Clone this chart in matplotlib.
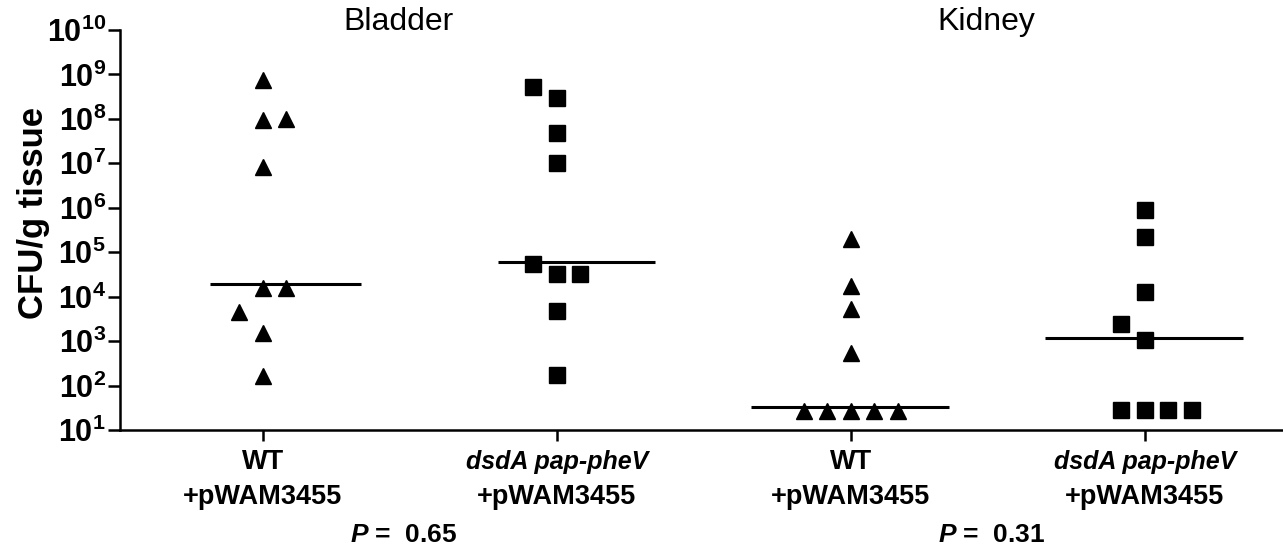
import matplotlib
matplotlib.use('Agg')
import matplotlib.pyplot as plt
import matplotlib.transforms as mtransforms
import numpy as np

plt.rcParams['font.family'] = 'Liberation Sans'
plt.rcParams['mathtext.fontset'] = 'custom'
plt.rcParams['mathtext.rm'] = 'Liberation Sans'
plt.rcParams['mathtext.bf'] = 'Liberation Sans:bold'
plt.rcParams['mathtext.bfit'] = 'Liberation Sans:italic:bold'

# values (CFU/g tissue)
bladder_wt = [7.4e8, 9.3e7, 1.0e8, 8.1e6, 1.55e4, 1.55e4, 4.5e3, 1.5e3, 160]
bladder_mut = [5.2e8, 3.0e8, 4.7e7, 1.0e7, 5.4e4, 3.2e4, 3.2e4, 4.7e3, 170]
kidney_wt = [2.0e5, 1.7e4, 5.2e3, 540, 27, 27, 27, 27, 27]
kidney_mut = [8.7e5, 2.2e5, 1.26e4, 2.4e3, 1.05e3, 28, 28, 28, 28]
medians = [1.9e4, 6.0e4, 33, 1.2e3]

strains = ['WT', 'dsdA pap-pheV', 'WT', 'dsdA pap-pheV']
plasmid = '+pWAM3455'
tissues = ['Bladder', 'Kidney']
p_values = ['0.65', '0.31']

# layout: horizontal slot of each point (scatter spread), median line extents
slots = [
    [0, 0, 1, 0, 0, 1, -1, 0, 0],
    [-1, 0, 0, 0, -1, 0, 1, 0, 0],
    [0, 0, 0, 0, -2, -1, 0, 1, 2],
    [0, 0, 0, -1, 0, -1, 0, 1, 2],
]
markers = ['^', 's', '^', 's']
line_left = [-0.18, -0.20, -0.34, -0.34]
line_right = 0.335
slot_w = 0.08

data = [bladder_wt, bladder_mut, kidney_wt, kidney_mut]

fig = plt.figure(figsize=(12.83, 5.51), dpi=100)
ax = fig.add_axes([0.0935, 0.2196, 0.9065, 0.7260])

for i, vals in enumerate(data):
    xs = [i + s * slot_w for s in slots[i]]
    ax.plot(xs, vals, ls='none', marker=markers[i], ms=12, color='black',
            mec='black')
    ax.plot([i + line_left[i], i + line_right], [medians[i], medians[i]],
            color='black', lw=2.2, solid_capstyle='butt')

ax.set_yscale('log')
ax.set_ylim(10, 1e10)
ax.set_xlim(-0.486, 3.47)
ax.set_yticks([10.0 ** k for k in range(1, 11)])
ax.set_yticklabels([r'$\mathbf{10^{%d}}$' % k for k in range(1, 11)])
ax.yaxis.set_minor_locator(matplotlib.ticker.NullLocator())
ax.tick_params(axis='y', labelsize=22, length=9, width=1.8, pad=1)
ax.set_xticks(range(4))
ax.set_xticklabels([])
ax.tick_params(axis='x', length=8, width=1.8)

for side in ['top', 'right']:
    ax.spines[side].set_visible(False)
for side in ['left', 'bottom']:
    ax.spines[side].set_linewidth(1.8)

fig.text(34 / 1283, 1 - 213 / 551, 'CFU/g tissue', rotation=90,
         ha='center', va='center', fontsize=25, fontweight='bold')

trans = mtransforms.blended_transform_factory(ax.transData, fig.transFigure)
for i, s in enumerate(strains):
    if s == 'WT':
        ax.text(i, 1 - 462 / 551, s, transform=trans, ha='center',
                va='center', fontsize=19.5, fontweight='bold')
    else:
        ax.text(i, 1 - 462 / 551, s, transform=trans, ha='center',
                va='center', fontsize=18, fontweight='bold',
                fontstyle='italic')
    ax.text(i, 1 - 497 / 551, plasmid, transform=trans, ha='center',
            va='center', fontsize=19.5, fontweight='bold')

for j, t in enumerate(tissues):
    ax.text(2 * j + 0.46, 1 - 22 / 551, t, transform=trans, ha='center',
            va='center', fontsize=23)
    ax.text(2 * j + 0.48, 1 - 535 / 551, r'$\mathbfit{P}$ =  ' + p_values[j],
            transform=trans, ha='center', va='center', fontsize=19,
            fontweight='bold')

fig.savefig('out.png', dpi=100)
